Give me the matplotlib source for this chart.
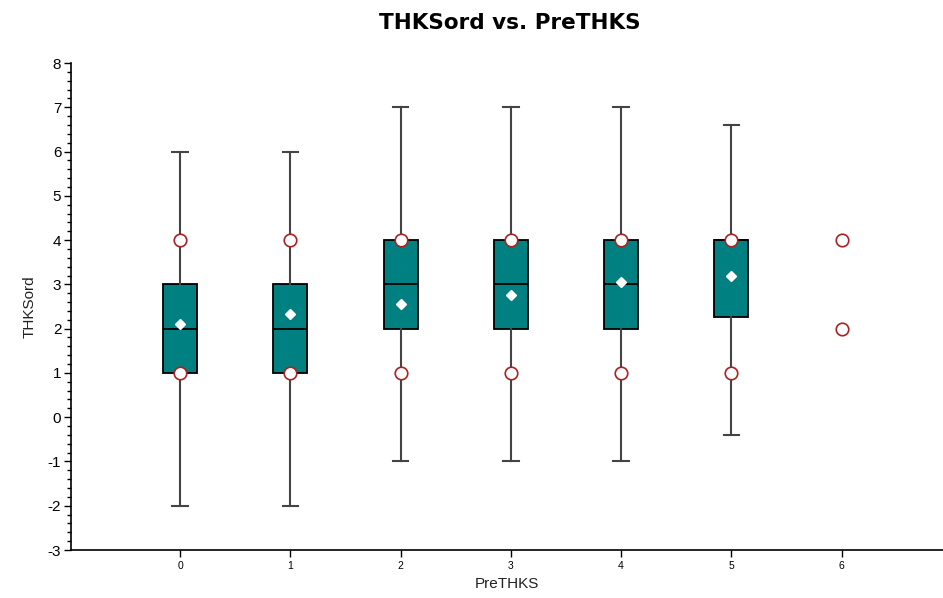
import numpy as np
import matplotlib.pyplot as plt

cats = [0, 1, 2, 3, 4, 5]
whislo = [-2, -2, -1, -1, -1, -0.4]
q1 = [1, 1, 2, 2, 2, 2.26]
med = [2, 2, 3, 3, 3, 4]
q3 = [3, 3, 4, 4, 4, 4]
whishi = [6, 6, 7, 7, 7, 6.61]
means = [2.11, 2.32, 2.55, 2.76, 3.05, 3.18]

circ_x = [0, 1, 2, 3, 4, 5, 6]
circ_lo = [1, 1, 1, 1, 1, 1, 2]
circ_hi = [4, 4, 4, 4, 4, 4, 4]

plt.rcParams['font.family'] = ['Liberation Sans', 'DejaVu Sans']
plt.rcParams['axes.unicode_minus'] = False

fig = plt.figure(figsize=(9.43, 5.98), dpi=100)
ax = fig.add_axes([71/943, 48/598, 872/943, 487/598])

stats = []
for i in range(len(cats)):
    stats.append(dict(whislo=whislo[i], q1=q1[i], med=med[i], q3=q3[i],
                      whishi=whishi[i], fliers=[]))

ax.bxp(stats, positions=cats, widths=0.31, patch_artist=True,
       showfliers=False, manage_ticks=False,
       boxprops=dict(facecolor='#008080', edgecolor='black', linewidth=1.3),
       medianprops=dict(color='black', linewidth=1.3),
       whiskerprops=dict(color='#444444', linewidth=1.5),
       capprops=dict(color='#444444', linewidth=1.5),
       capwidths=0.14)

ax.plot(cats, means, linestyle='none', marker='D', markersize=5,
        markerfacecolor='white', markeredgecolor='white', zorder=5)
ax.plot(circ_x, circ_lo, linestyle='none', marker='o', markersize=9,
        markerfacecolor='white', markeredgecolor='#aa2222', markeredgewidth=1.2, zorder=6)
ax.plot(circ_x, circ_hi, linestyle='none', marker='o', markersize=9,
        markerfacecolor='white', markeredgecolor='#aa2222', markeredgewidth=1.2, zorder=6)

ax.set_xlim(-0.99, 6.92)
ax.set_ylim(-3, 8)
ax.set_xticks(range(7))
ax.set_yticks(range(-3, 9))
ax.set_yticks(np.arange(-3, 8.01, 0.2), minor=True)
ax.tick_params(axis='y', which='major', length=5, width=1, labelsize=11, pad=2)
ax.tick_params(axis='y', which='minor', length=3, width=1)
ax.tick_params(axis='x', which='major', length=5, width=1, labelsize=7.5, pad=3)
for s in ['top', 'right']:
    ax.spines[s].set_visible(False)
ax.spines['left'].set_linewidth(1.2)
ax.spines['bottom'].set_linewidth(1.2)

ax.set_xlabel('PreTHKS', fontsize=11, color='#222222', labelpad=4)
ax.set_ylabel('THKSord', fontsize=11, color='#222222', labelpad=8)
fig.text(0.541, 0.962, 'THKSord vs. PreTHKS', ha='center', va='center',
         fontsize=15.5, fontweight='bold', family='DejaVu Sans')

fig.savefig('out.png', dpi=100)
